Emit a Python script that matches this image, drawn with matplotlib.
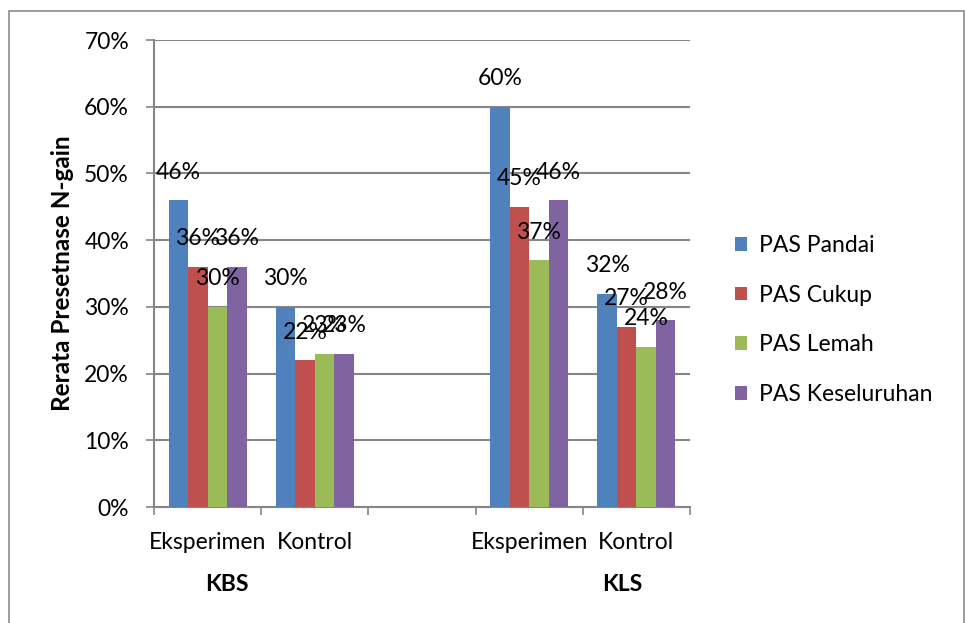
import matplotlib
matplotlib.use("Agg")
import matplotlib.pyplot as plt
from matplotlib.patches import Rectangle
import numpy as np

plt.rcParams['font.family'] = ['Lato', 'DejaVu Sans']

# Category slots along the x axis (the middle slot is an empty spacer)
categories = ['Eksperimen', 'Kontrol', '', 'Eksperimen', 'Kontrol']
groups = ['KBS', 'KLS']

series_names = ['PAS Pandai', 'PAS Cukup', 'PAS Lemah', 'PAS Keseluruhan']
pas_pandai = [46, 30, np.nan, 60, 32]
pas_cukup = [36, 22, np.nan, 45, 27]
pas_lemah = [30, 23, np.nan, 37, 24]
pas_keseluruhan = [36, 23, np.nan, 46, 28]
series_values = [pas_pandai, pas_cukup, pas_lemah, pas_keseluruhan]
colors = ['#4F81BD', '#C0504D', '#9BBB59', '#8064A2']

FS = 16.5

W, H = 966, 623
fig = plt.figure(figsize=(W / 100, H / 100), dpi=100)
ax = fig.add_axes([154 / W, 1 - 507 / H, 536 / W, 467 / H])

grey = '#868686'
n = len(series_values)
gap = 1.5  # gap between clusters, in bar widths
bw = 1.0 / (n + gap)
x = np.arange(len(categories))

for i, (name, vals, c) in enumerate(zip(series_names, series_values, colors)):
    xs = x - (n * bw) / 2 + bw * (i + 0.5)
    ax.bar(xs, vals, width=bw, color=c, label=name, zorder=3)
    for xi, v in zip(xs, vals):
        if np.isnan(v):
            continue
        ax.annotate(f'{v:.0f}%', (xi, v), xytext=(0, 28), textcoords='offset pixels',
                    ha='center', va='center', fontsize=FS, color='black', zorder=5)

ax.set_xlim(-0.5, len(categories) - 0.5)
ax.set_ylim(0, 70)
ax.set_yticks(np.arange(0, 71, 10))
ax.set_yticklabels([f'{t}%' for t in range(0, 71, 10)], fontsize=FS)
ax.yaxis.grid(True, color=grey, linewidth=1.5, zorder=0)
ax.set_axisbelow(True)

ax.set_xticks(x)
ax.set_xticklabels(categories, fontsize=FS)
ax.tick_params(axis='x', which='major', length=0, pad=18)
ax.set_xticks(np.arange(-0.5, len(categories), 1.0), minor=True)
ax.tick_params(axis='x', which='minor', length=6, width=1.2, color=grey, direction='out')
ax.tick_params(axis='y', length=6, width=1.2, color=grey, pad=12)

for s in ['top', 'right']:
    ax.spines[s].set_visible(False)
for s in ['left', 'bottom']:
    ax.spines[s].set_color(grey)
    ax.spines[s].set_linewidth(1.5)

ax.set_ylabel('Rerata Presetnase N-gain', fontsize=17.5, fontweight='bold', labelpad=7)

# Group labels under the category names
for gx, g in zip([0.136, 0.873], groups):
    ax.text(gx, -0.165, g, transform=ax.transAxes, ha='center', va='center',
            fontsize=FS, fontweight='bold')

ax.legend(loc='center left', bbox_to_anchor=(714 / W, 1 - 320 / H),
          bbox_transform=fig.transFigure, frameon=False, fontsize=FS,
          handlelength=0.55, handleheight=0.55, handletextpad=0.5, labelspacing=1.25)

# Chart border
fig.patches.append(Rectangle((9 / W, -0.05), (964 - 9) / W, 1 - 11 / H + 0.05,
                             transform=fig.transFigure, fill=False,
                             edgecolor='#8c8c8c', linewidth=1.2))

fig.savefig('out.png', dpi=100)
